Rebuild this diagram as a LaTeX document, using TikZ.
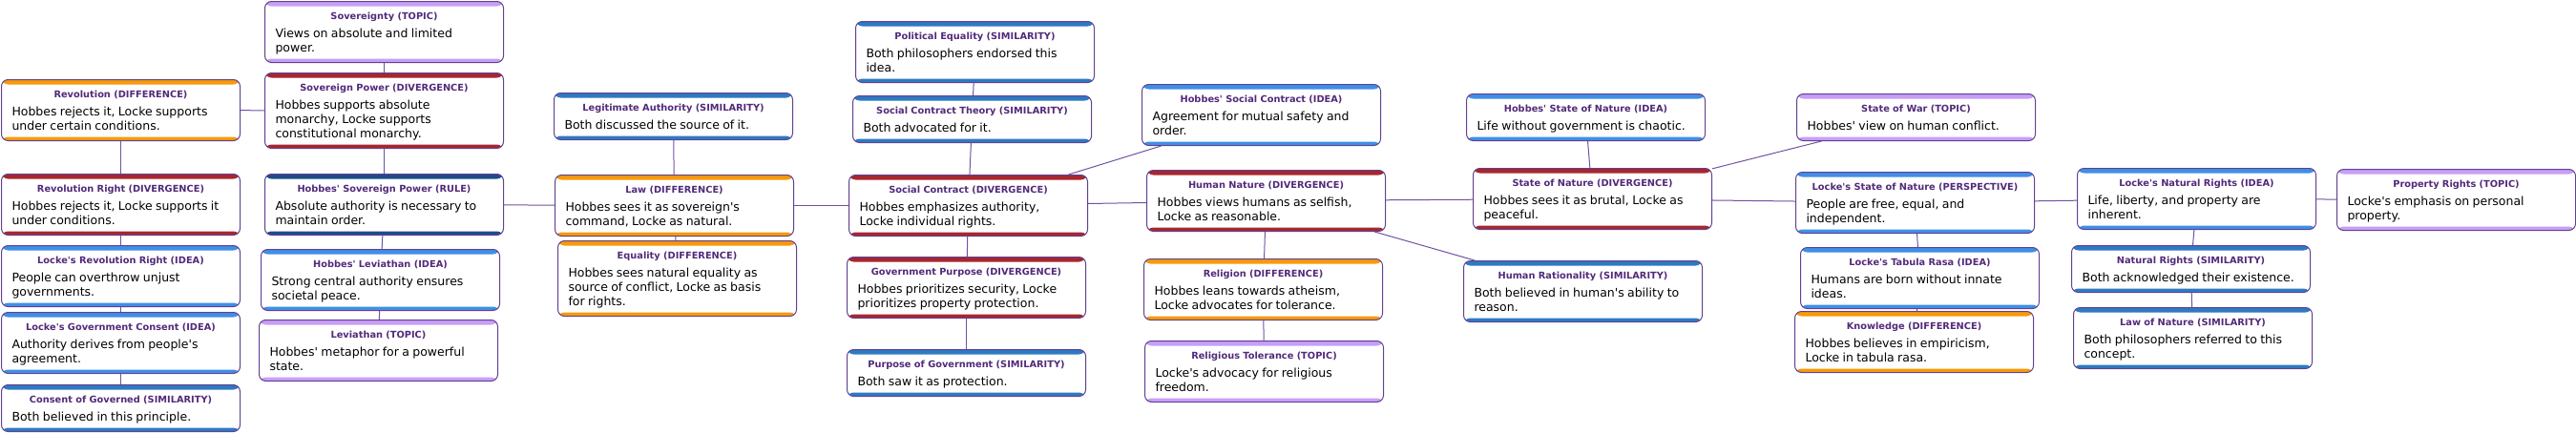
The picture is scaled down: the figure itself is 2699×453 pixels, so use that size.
\documentclass[tikz,border=0pt]{standalone}
\usepackage{fontspec}
\setmainfont{DejaVu Sans}[Ligatures=TeXOff]
\definecolor{topicC}{RGB}{200,158,246}
\definecolor{divergeC}{RGB}{168,38,46}
\definecolor{differC}{RGB}{247,153,12}
\definecolor{similarC}{RGB}{46,122,194}
\definecolor{ideaC}{RGB}{64,143,230}
\definecolor{ruleC}{RGB}{28,76,136}
\definecolor{perspC}{RGB}{64,143,230}
\definecolor{titleC}{RGB}{82,42,122}
\definecolor{boxC}{RGB}{96,66,146}
\definecolor{linkC}{RGB}{112,82,162}
\newcommand\titlefont{\fontsize{9.8}{12}\selectfont\bfseries\color{titleC}}
\newcommand\bodyfont{\normalfont\fontsize{12.5}{15}\selectfont\color{black}}

\begin{document}
\begin{tikzpicture}[x=1pt,y=-1pt,
	declare function={
		topStrip = 5;
		botStrip = 4;
	},
	cbox/.style={draw=boxC,line width=1pt,rounded corners=7pt,fill=white,
		anchor=north west,inner xsep=5pt,inner ysep=0pt,text width=240pt,
		path picture={
			\fill[#1] (path picture bounding box.north west) rectangle ([yshift=-topStrip*1pt]path picture bounding box.north east);
			\fill[#1] (path picture bounding box.south west) rectangle ([yshift=botStrip*1pt]path picture bounding box.south east);
		}},
	link/.style={draw=linkC,line width=1pt}
	]
	\useasboundingbox (0,0) rectangle (2699,453);
	\foreach \name/\x/\y/\kind/\head/\txt in {
		sovereignty/277/1/topicC/{Sovereignty (TOPIC)}/{Views on absolute and limited\\power.},
		sovpower/277/76/divergeC/{Sovereign Power (DIVERGENCE)}/{Hobbes supports absolute\\monarchy, Locke supports\\constitutional monarchy.},
		revolution/1/83/differC/{Revolution (DIFFERENCE)}/{Hobbes rejects it, Locke supports\\under certain conditions.},
		revright/1/182/divergeC/{Revolution Right (DIVERGENCE)}/{Hobbes rejects it, Locke supports it\\under conditions.},
		hobbessov/277/182/ruleC/{Hobbes' Sovereign Power (RULE)}/{Absolute authority is necessary to\\maintain order.},
		lockerev/1/257/ideaC/{Locke's Revolution Right (IDEA)}/{People can overthrow unjust\\governments.},
		lockeconsent/1/327/ideaC/{Locke's Government Consent (IDEA)}/{Authority derives from people's\\agreement.},
		consent/1/403/similarC/{Consent of Governed (SIMILARITY)}/{Both believed in this principle.},
		hobbeslev/273/261/ideaC/{Hobbes' Leviathan (IDEA)}/{Strong central authority ensures\\societal peace.},
		leviathan/271/335/topicC/{Leviathan (TOPIC)}/{Hobbes' metaphor for a powerful\\state.},
		legit/580/97/similarC/{Legitimate Authority (SIMILARITY)}/{Both discussed the source of it.},
		law/581/183/differC/{Law (DIFFERENCE)}/{Hobbes sees it as sovereign's\\command, Locke as natural.},
		equality/584/252/differC/{Equality (DIFFERENCE)}/{Hobbes sees natural equality as\\source of conflict, Locke as basis\\for rights.},
		poleq/896/22/similarC/{Political Equality (SIMILARITY)}/{Both philosophers endorsed this\\idea.},
		sctheory/893/100/similarC/{Social Contract Theory (SIMILARITY)}/{Both advocated for it.},
		socialcontract/889/183/divergeC/{Social Contract (DIVERGENCE)}/{Hobbes emphasizes authority,\\Locke individual rights.},
		govpurpose/887/269/divergeC/{Government Purpose (DIVERGENCE)}/{Hobbes prioritizes security, Locke\\prioritizes property protection.},
		purposegov/887/366/similarC/{Purpose of Government (SIMILARITY)}/{Both saw it as protection.},
		hobbessc/1196/88/ideaC/{Hobbes' Social Contract (IDEA)}/{Agreement for mutual safety and\\order.},
		humannature/1201/178/divergeC/{Human Nature (DIVERGENCE)}/{Hobbes views humans as selfish,\\Locke as reasonable.},
		religion/1198/271/differC/{Religion (DIFFERENCE)}/{Hobbes leans towards atheism,\\Locke advocates for tolerance.},
		reltol/1199/357/topicC/{Religious Tolerance (TOPIC)}/{Locke's advocacy for religious\\freedom.},
		hobbessn/1536/98/ideaC/{Hobbes' State of Nature (IDEA)}/{Life without government is chaotic.},
		statenature/1543/176/divergeC/{State of Nature (DIVERGENCE)}/{Hobbes sees it as brutal, Locke as\\peaceful.},
		humanrat/1533/273/similarC/{Human Rationality (SIMILARITY)}/{Both believed in human's ability to\\reason.},
		statewar/1882/98/topicC/{State of War (TOPIC)}/{Hobbes' view on human conflict.},
		lockesn/1881/180/perspC/{Locke's State of Nature (PERSPECTIVE)}/{People are free, equal, and\\independent.},
		tabula/1886/259/ideaC/{Locke's Tabula Rasa (IDEA)}/{Humans are born without innate\\ideas.},
		knowledge/1880/326/differC/{Knowledge (DIFFERENCE)}/{Hobbes believes in empiricism,\\Locke in tabula rasa.},
		lockenr/2176/176/ideaC/{Locke's Natural Rights (IDEA)}/{Life, liberty, and property are\\inherent.},
		natrights/2170/257/similarC/{Natural Rights (SIMILARITY)}/{Both acknowledged their existence.},
		lawnature/2172/322/similarC/{Law of Nature (SIMILARITY)}/{Both philosophers referred to this\\concept.},
		property/2448/177/topicC/{Property Rights (TOPIC)}/{Locke's emphasis on personal\\property.}
	}{
		\node[cbox=\kind] (\name) at (\x,\y) {\centering\titlefont\rule{0pt}{19pt}\head\par\vspace{4pt}\raggedright\leftskip=6pt\bodyfont\txt\rule[-11pt]{0pt}{11pt}\par};
	}
	\foreach \a/\b in {sovereignty/sovpower,revolution/sovpower,sovpower/hobbessov,
		revolution/revright,revright/lockerev,lockerev/lockeconsent,lockeconsent/consent,
		hobbessov/hobbeslev,hobbeslev/leviathan,hobbessov/law,legit/law,law/equality,
		law/socialcontract,poleq/sctheory,sctheory/socialcontract,socialcontract/govpurpose,
		govpurpose/purposegov,socialcontract/hobbessc,socialcontract/humannature,
		humannature/religion,religion/reltol,humannature/humanrat,humannature/statenature,
		hobbessn/statenature,statenature/statewar,statenature/lockesn,lockesn/tabula,
		tabula/knowledge,lockesn/lockenr,lockenr/natrights,natrights/lawnature,lockenr/property}{
		\draw[link] (\a) -- (\b);
	}
\end{tikzpicture}
\end{document}
